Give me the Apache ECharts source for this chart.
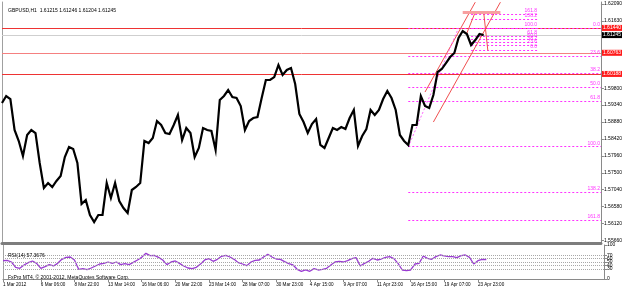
<!DOCTYPE html>
<html>
<head>
<meta charset="utf-8">
<script src="https://cdn.jsdelivr.net/npm/echarts@6/dist/echarts.min.js"></script>
<style>
  html, body { margin: 0; padding: 0; background: #fff; }
  #chart { width: 625px; height: 290px; }
</style>
</head>
<body>
<div id="chart"></div>
<script>
// H1 bars sampled every few hours, one value per slot
const slotCount = 144
const timeLabels = ['1 Mar 2012', '6 Mar 06:00', '8 Mar 22:00', '13 Mar 14:00', '16 Mar 06:00', '20 Mar 22:00',
  '23 Mar 14:00', '28 Mar 07:00', '30 Mar 23:00', '4 Apr 15:00', '9 Apr 07:00', '11 Apr 23:00',
  '16 Apr 15:00', '19 Apr 07:00', '23 Apr 23:00']
const timeLabelSlots = [0, 9, 17, 25, 33, 41, 49, 57, 65, 73, 81, 89, 97, 105, 113]

const closes = [
  1.59397, 1.59588, 1.59506, 1.58663, 1.58364, 1.57956, 1.58527, 1.58663, 1.58581, 1.57765,
  1.57085, 1.57221, 1.57112, 1.57276, 1.57412, 1.57928, 1.58200, 1.58146, 1.57765, 1.56650,
  1.56759, 1.56351, 1.56160, 1.56351, 1.56351, 1.57221, 1.56813, 1.57221, 1.56732, 1.56541,
  1.56405, 1.57031, 1.57112, 1.57221, 1.58364, 1.58309, 1.58445, 1.58908, 1.58799, 1.58581,
  1.58554, 1.58799, 1.59071, 1.58391, 1.58717, 1.58581, 1.57928, 1.58173, 1.58717, 1.58663,
  1.58636, 1.58119, 1.59479, 1.59588, 1.59751, 1.59560, 1.59533, 1.59316, 1.58663, 1.58908,
  1.58989, 1.59016, 1.59533, 1.60023, 1.60023, 1.60104, 1.60431, 1.60159, 1.60295, 1.60349,
  1.59914, 1.59098, 1.58880, 1.58581, 1.58826, 1.58962, 1.58255, 1.58173, 1.58445, 1.58717,
  1.58663, 1.58744, 1.58690, 1.58989, 1.59207, 1.58228, 1.58500, 1.58690, 1.59207, 1.59071,
  1.59207, 1.59506, 1.59724, 1.59533, 1.59207, 1.58527, 1.58364, 1.58255, 1.58799, 1.58799,
  1.59588, 1.59316, 1.59261, 1.59615, 1.60240, 1.60322, 1.60485, 1.60648, 1.60757, 1.61165,
  1.61356, 1.61274, 1.60975, 1.61111, 1.61274, 1.61245
]

const rsi = [
  53.9, 54.9, 50.0, 34.3, 31.4, 41.2, 48.1, 53.0, 46.1, 31.4,
  36.3, 42.2, 38.3, 46.1, 57.9, 63.7, 64.7, 55.9, 28.5, 30.4,
  27.5, 32.4, 38.3, 44.1, 46.1, 50.0, 46.1, 50.0, 42.2, 45.1,
  42.2, 49.0, 55.9, 63.7, 75.5, 68.6, 69.6, 63.7, 55.9, 42.2,
  50.0, 53.0, 46.1, 38.3, 32.4, 30.4, 34.3, 44.1, 55.9, 59.8,
  52.0, 57.9, 66.7, 69.6, 64.7, 57.9, 48.1, 44.1, 39.2, 50.0,
  54.9, 55.9, 64.7, 72.6, 64.7, 58.8, 57.9, 51.0, 45.1, 41.2,
  28.5, 22.6, 26.5, 22.6, 30.4, 26.5, 28.5, 31.4, 41.2, 50.0,
  52.0, 50.0, 53.9, 59.8, 62.8, 38.3, 46.1, 52.0, 60.8, 55.9,
  58.8, 63.7, 65.7, 59.8, 46.1, 26.5, 24.5, 26.5, 44.1, 46.1,
  67.7, 60.8, 57.9, 65.7, 70.6, 67.7, 65.7, 65.7, 62.8, 68.6,
  70.6, 63.7, 44.1, 53.9, 57.9, 57.37
]

const priceTicks = [1.62090, 1.61630, 1.59800, 1.59340, 1.58880, 1.58420, 1.57960,
  1.57500, 1.57040, 1.56580, 1.56120, 1.55660]
const rsiTicks = [0, 30, 40, 50, 60, 70, 100]
const rsiLevels = [30, 40, 50, 60, 70]

const redLines = [1.61440, 1.60188]
const pinkLine = 1.60763
const bidPrice = 1.61245

const fibLevels = [1.61440, 1.60680, 1.60200, 1.59825, 1.59444, 1.58210, 1.56976, 1.56214]
const fibNames = ['0.0', '23.6', '38.2', '50.0', '61.8', '100.0', '138.2', '161.8']
const fib2Levels = [1.61820, 1.61675, 1.61440, 1.61205, 1.61133, 1.61060, 1.60970, 1.60825]
const fib2Names = ['161.8', '138.2', '100.0', '61.8', '50.0', '38.2', '23.6', '0.0']

// channel / pitchfork objects: [slot, price] pairs
const channelLines = [
  [[100.6, 1.59696], [113.2, 1.62140]],
  [[102.5, 1.58880], [118.5, 1.62140]],
  [[113.3, 1.61872], [111.3, 1.61300]],
  [[115.2, 1.61872], [116.2, 1.60825]]
]
const fibTrend = [[96.8, 1.58200], [109.0, 1.61440]]
const bullBar = [[110.2, 1.61872], [118.5, 1.61872]]

const FONT = 'Liberation Sans'
const last = slotCount - 1
const slots = Array.from({ length: slotCount }, (_, i) => String(i))
const labelAt = {}
timeLabelSlots.forEach((s, k) => { labelAt[s] = timeLabels[k] })

const fullLine = p => [{ coord: [0, p], label: { formatter: p.toFixed(5) } }, { coord: [last, p] }]

// horizontal level lines, one series per colour
function levelSeries(name, prices, color, bg, z) {
  return {
    name, type: 'line', xAxisIndex: 0, yAxisIndex: 0, data: [], z,
    markLine: {
      silent: true, symbol: 'none', z,
      lineStyle: { color, type: 'solid', width: 1 },
      label: { position: 'end', distance: 1, fontSize: 5, padding: [1, 1, 0, 1], color: '#fff',
        backgroundColor: bg, fontFamily: FONT },
      data: prices.map(fullLine)
    }
  }
}

const fibLines = fibLevels.map((p, k) => [
  { coord: [97, p], label: { formatter: fibNames[k] } },
  { coord: [last, p] }
])
const fib2Lines = fib2Levels.map((p, k) => [
  { coord: [111.5, p], label: { formatter: fib2Names[k] } },
  { coord: [127.5, p] }
])
const redObjs = channelLines.map(l => [{ coord: l[0] }, { coord: l[1] }])

const chart = echarts.init(document.getElementById('chart'))

const textBase = { fontSize: 5, fontWeight: 'normal', color: '#000', fontFamily: FONT }

const option = {
  animation: false,
  backgroundColor: '#fff',
  textStyle: { fontFamily: FONT },
  title: [
    { text: 'GBPUSD,H1  1.61215 1.61246 1.61204 1.61245', left: 3, top: 3, textStyle: textBase },
    { text: 'RSI(14) 57.3676', left: 3, top: 248, textStyle: textBase },
    { text: 'FxPro MT4, © 2001-2012, MetaQuotes Software Corp.', left: 3, top: 270, textStyle: textBase }
  ],
  grid: [
    { left: 2, right: 21, top: 2, bottom: 47 },
    { left: 2, right: 21, top: 245, bottom: 11 }
  ],
  xAxis: [
    {
      type: 'category', gridIndex: 0, data: slots, boundaryGap: false,
      axisLine: { show: true, lineStyle: { color: '#7d7d7d', width: 3 } },
      axisTick: { show: false }, axisLabel: { show: false }, splitLine: { show: false }
    },
    {
      type: 'category', gridIndex: 1, data: slots, boundaryGap: false,
      axisLine: { show: true, lineStyle: { color: '#8a8a8a', width: 1 } },
      axisTick: { show: true, length: 3, lineStyle: { color: '#8a8a8a' },
        interval: (idx) => labelAt[idx] !== undefined },
      axisLabel: {
        interval: (idx) => labelAt[idx] !== undefined,
        formatter: (v, idx) => labelAt[idx] || '',
        fontSize: 4.6, color: '#000', align: 'left', margin: 3, fontFamily: FONT
      },
      splitLine: { show: false }
    }
  ],
  yAxis: [
    {
      type: 'value', gridIndex: 0, position: 'right', min: 1.55589, max: 1.62145,
      axisLine: { show: true, lineStyle: { color: '#8a8a8a', width: 1 } },
      axisTick: { show: true, length: 3, customValues: priceTicks, lineStyle: { color: '#8a8a8a' } },
      axisLabel: { customValues: priceTicks, formatter: v => v.toFixed(5),
        fontSize: 5, color: '#000', margin: 3, fontFamily: FONT },
      splitLine: { show: false }
    },
    {
      type: 'value', gridIndex: 0, position: 'left', min: 1.55589, max: 1.62145,
      axisLine: { show: true, lineStyle: { color: '#a0a0a0', width: 1 } },
      axisTick: { show: false }, axisLabel: { show: false }, splitLine: { show: false }
    },
    {
      type: 'value', gridIndex: 1, position: 'right', min: 0, max: 100,
      axisLine: { show: true, lineStyle: { color: '#8a8a8a', width: 1 } },
      axisTick: { show: true, length: 3, customValues: rsiTicks, lineStyle: { color: '#8a8a8a' } },
      axisLabel: { customValues: rsiTicks, fontSize: 5, color: '#000', margin: 3, fontFamily: FONT },
      splitLine: { show: false }
    },
    {
      type: 'value', gridIndex: 1, position: 'left', min: 0, max: 100,
      axisLine: { show: true, lineStyle: { color: '#a0a0a0', width: 1 } },
      axisTick: { show: false }, axisLabel: { show: false }, splitLine: { show: false }
    }
  ],
  series: [
    levelSeries('bid', [bidPrice], '#cfcfcf', '#000', 1),
    levelSeries('level', [pinkLine], '#f58080', '#ff1a1a', 2),
    levelSeries('lines', redLines, '#ee3333', '#ff1a1a', 3),
    {
      name: 'fibo', type: 'line', xAxisIndex: 0, yAxisIndex: 0, data: [], z: 2,
      markLine: {
        silent: true, symbol: 'none',
        lineStyle: { color: '#ff33ff', type: [2, 2], width: 1 },
        label: { position: 'insideEndTop', distance: 1, fontSize: 5, color: '#ff33ff', fontFamily: FONT },
        data: fibLines.concat(fib2Lines)
      }
    },
    {
      name: 'objects', type: 'line', xAxisIndex: 0, yAxisIndex: 0, data: [], z: 4,
      markLine: {
        silent: true, symbol: 'none', label: { show: false },
        lineStyle: { color: '#f05050', type: 'solid', width: 1 },
        data: redObjs.concat([
          [{ coord: fibTrend[0], lineStyle: { color: '#ff66ff', type: [2, 2] } }, { coord: fibTrend[1] }],
          [{ coord: bullBar[0], lineStyle: { color: '#f7a0a0', width: 3 } }, { coord: bullBar[1] }]
        ])
      },
      markPoint: {
        silent: true, symbol: 'none',
        label: { show: true, formatter: 'BULL', color: '#e83030', fontSize: 5, fontFamily: FONT },
        data: [{ coord: [114, 1.62000] }]
      }
    },
    {
      name: 'GBPUSD', type: 'line', xAxisIndex: 0, yAxisIndex: 0, data: closes,
      showSymbol: false, symbol: 'none', z: 5,
      lineStyle: { color: '#000', width: 2.2, join: 'miter' }
    },
    {
      name: 'RSI(14)', type: 'line', xAxisIndex: 1, yAxisIndex: 2, data: rsi,
      showSymbol: false, symbol: 'none',
      lineStyle: { color: '#9a3cd2', width: 1.3 },
      markLine: {
        silent: true, symbol: 'none', label: { show: false },
        lineStyle: { color: '#a8a8a8', type: [1, 1], width: 1 },
        data: rsiLevels.map(v => ({ yAxis: v }))
      }
    }
  ]
}

chart.setOption(option)
</script>
</body>
</html>
